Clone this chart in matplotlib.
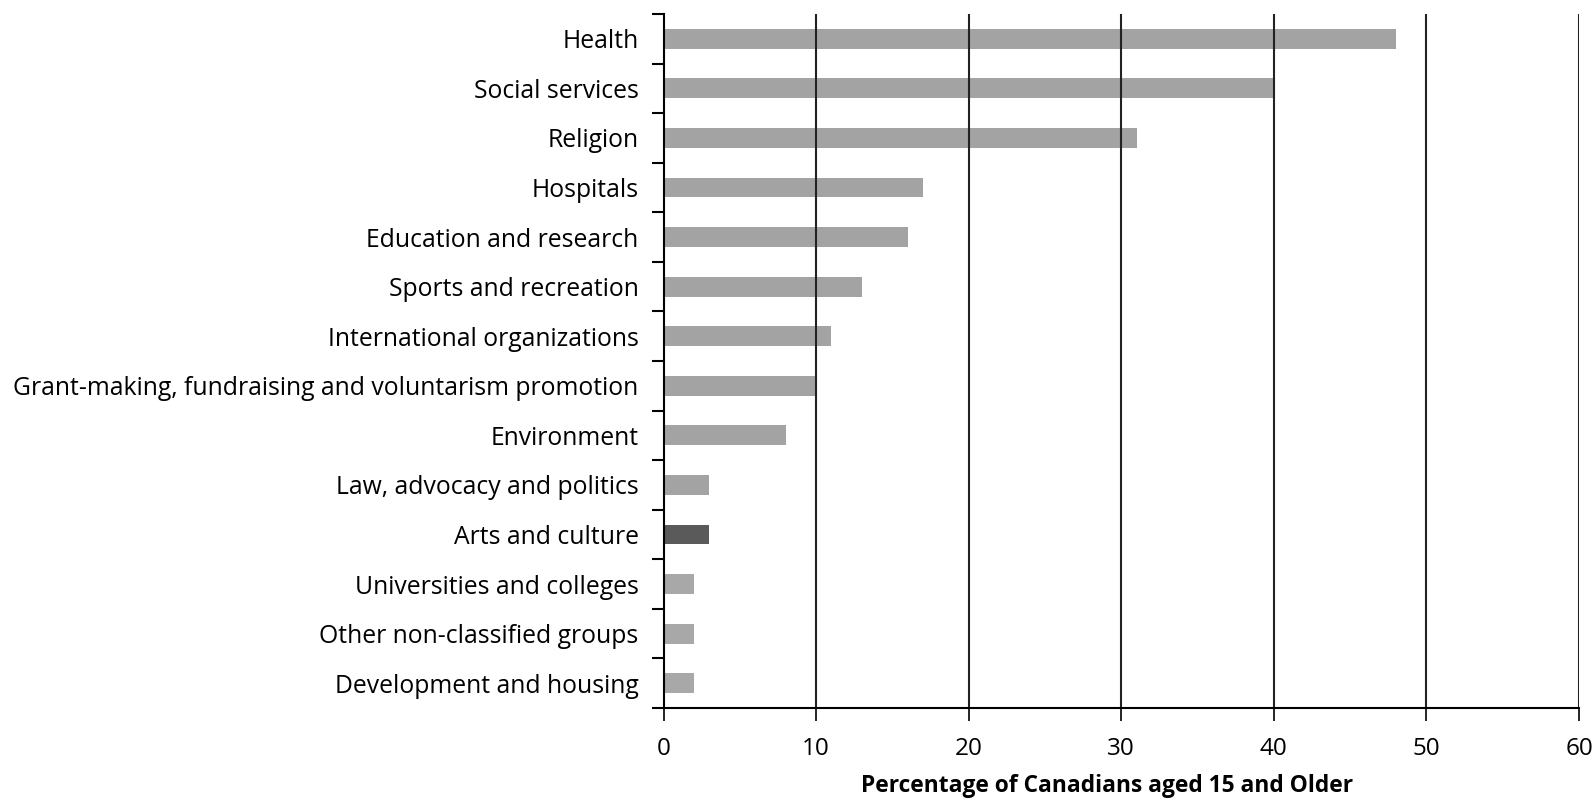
import numpy as np
import matplotlib
matplotlib.use('Agg')
from matplotlib import pyplot as plt

plt.rcParams['font.family'] = ['Open Sans', 'DejaVu Sans']

categories = ['Health', 'Social services', 'Religion', 'Hospitals',
              'Education and research', 'Sports and recreation',
              'International organizations',
              'Grant-making, fundraising and voluntarism promotion',
              'Environment', 'Law, advocacy and politics', 'Arts and culture',
              'Universities and colleges', 'Other non-classified groups',
              'Development and housing']
values = [48, 40, 31, 17, 16, 13, 11, 10, 8, 3, 3, 2, 2, 2]
colors = ['#a3a3a3'] * 10 + ['#5a5a5a'] + ['#a8a8a8'] * 3
xticks = [0, 10, 20, 30, 40, 50, 60]

fig = plt.figure(figsize=(15.95, 8), dpi=100)
ax = fig.add_axes([0.416, 0.115, 0.574, 0.8675])

pos = np.arange(len(categories))
ax.barh(pos, values, height=0.4, color=colors, edgecolor='none', zorder=1)

ax.set_xlim(0, 60)
ax.set_ylim(len(categories) - 0.5, -0.5)
ax.set_xticks(xticks)
ax.set_yticks(pos)
ax.set_yticklabels(categories, fontsize=17.8)
ax.tick_params(axis='y', length=0, pad=18)
# small tick marks between the categories
ax.set_yticks(np.arange(len(categories) + 1) - 0.5, minor=True)
ax.tick_params(axis='y', which='minor', length=9, width=1.5, direction='out')
ax.tick_params(axis='x', length=9, width=1.2, direction='out', labelsize=17.5, pad=12)

for x in xticks[1:]:
    ax.axvline(x, color='#222222', lw=1.5, zorder=2)

ax.spines['top'].set_visible(False)
ax.spines['right'].set_visible(False)
ax.spines['left'].set_linewidth(1.5)
ax.spines['bottom'].set_linewidth(1.5)

ax.set_xlabel('Percentage of Canadians aged 15 and Older', fontsize=16.4,
              fontweight='bold', va='bottom')
ax.xaxis.set_label_coords(0.485, -0.13)

fig.savefig('out.png', dpi=100)
